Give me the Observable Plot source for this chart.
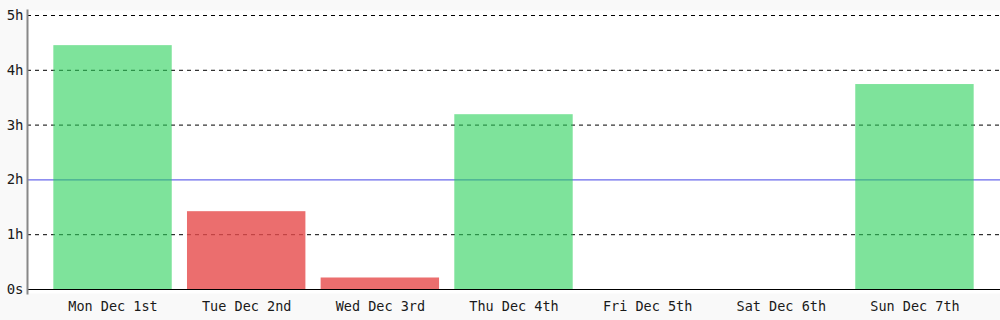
<!DOCTYPE html>
<html>
<head>
<meta charset="utf-8">
<script src="https://cdn.jsdelivr.net/npm/d3@7"></script>
<script src="https://cdn.jsdelivr.net/npm/@observablehq/plot@0.6"></script>
<style>
  html, body { margin: 0; padding: 0; background: #f9f9f9; }
  #chart svg { display: block; }
</style>
</head>
<body>
<div id="chart"></div>
<script>
const days = ["Mon Dec 1st", "Tue Dec 2nd", "Wed Dec 3rd", "Thu Dec 4th", "Fri Dec 5th", "Sat Dec 6th", "Sun Dec 7th"];
const hours = [4.45, 1.42, 0.21, 3.19, 0, 0, 3.74];
const goal = 2;
const gridTicks = [1, 3, 4, 5];
const yTicks = [0, 1, 2, 3, 4, 5];
const yTickLabels = ["0s", "1h", "2h", "3h", "4h", "5h"];

const data = days.map((day, i) => ({day, hours: hours[i]}));

const chart = Plot.plot({
  width: 1000,
  height: 320,
  marginLeft: 27,
  marginRight: 0,
  marginTop: 10,
  marginBottom: 27,
  style: {background: "#f9f9f9", fontFamily: "'DejaVu Sans Mono', monospace", fontSize: "13px", color: "#1a1a1a"},
  x: {domain: days, paddingInner: 0.114, paddingOuter: 0.197, round: false, label: null},
  y: {domain: [0, 5], insetTop: 5, insetBottom: 4, label: null},
  marks: [
    Plot.frame({fill: "white", stroke: "none"}),
    Plot.ruleY(gridTicks, {stroke: "#000", strokeDasharray: "4,4", strokeWidth: 1}),
    Plot.ruleY([goal], {stroke: "#6a6aec", strokeWidth: 1.2}),
    Plot.ruleY([0], {stroke: "#000", strokeWidth: 1}),
    Plot.barY(data.filter(d => d.hours > 0), {
      x: "day",
      y: "hours",
      fill: d => d.hours >= goal ? "rgb(40,208,88)" : "rgb(230,74,74)",
      fillOpacity: d => d.hours >= goal ? 0.6 : 0.8
    }),
    Plot.frame({anchor: "left", stroke: "#888", strokeWidth: 2}),
    Plot.axisY({ticks: yTicks, tickFormat: (d) => yTickLabels[yTicks.indexOf(d)], tickSize: 0, tickPadding: 4, label: null, fontSize: 14}),
    Plot.axisX({tickSize: 0, tickPadding: 8, label: null, fontSize: 13.5})
  ]
});
document.getElementById("chart").appendChild(chart);
</script>
</body>
</html>
